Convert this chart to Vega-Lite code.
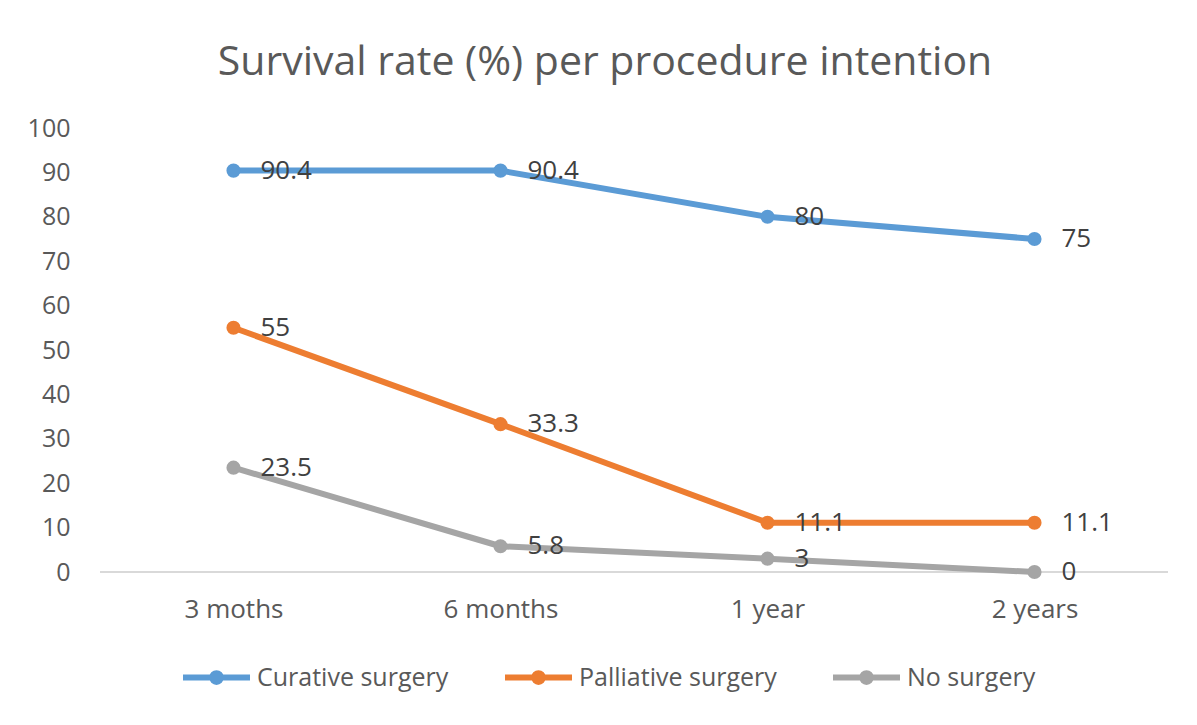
{
  "$schema": "https://vega.github.io/schema/vega-lite/v6.json",
  "autosize": {"type": "none"},
  "width": 1068,
  "height": 444,
  "padding": {"left": 100, "top": 128, "right": 29, "bottom": 153},
  "background": "white",
  "title": {
    "text": "Survival rate (%) per procedure intention",
    "font": "Open Sans",
    "fontSize": 41,
    "fontWeight": "normal",
    "color": "#595959",
    "anchor": "middle",
    "baseline": "alphabetic",
    "offset": 0,
    "dx": -29
  },
  "data": {
    "values": [
      {"period": "3 moths", "group": "Curative surgery", "rate": 90.4},
      {"period": "6 months", "group": "Curative surgery", "rate": 90.4},
      {"period": "1 year", "group": "Curative surgery", "rate": 80},
      {"period": "2 years", "group": "Curative surgery", "rate": 75},
      {"period": "3 moths", "group": "Palliative surgery", "rate": 55},
      {"period": "6 months", "group": "Palliative surgery", "rate": 33.3},
      {"period": "1 year", "group": "Palliative surgery", "rate": 11.1},
      {"period": "2 years", "group": "Palliative surgery", "rate": 11.1},
      {"period": "3 moths", "group": "No surgery", "rate": 23.5},
      {"period": "6 months", "group": "No surgery", "rate": 5.8},
      {"period": "1 year", "group": "No surgery", "rate": 3},
      {"period": "2 years", "group": "No surgery", "rate": 0}
    ]
  },
  "encoding": {
    "x": {
      "field": "period",
      "type": "ordinal",
      "sort": ["3 moths", "6 months", "1 year", "2 years"],
      "scale": {"type": "point", "padding": 0.5},
      "axis": {
        "title": null,
        "labelAngle": 0,
        "labelFont": "Open Sans",
        "labelFontSize": 26,
        "labelColor": "#595959",
        "labelPadding": 24,
        "ticks": false,
        "domain": false,
        "grid": false
      }
    },
    "y": {
      "field": "rate",
      "type": "quantitative",
      "scale": {"domain": [0, 100], "nice": false},
      "axis": {
        "title": null,
        "values": [0, 10, 20, 30, 40, 50, 60, 70, 80, 90, 100],
        "labelFont": "Open Sans",
        "labelFontSize": 25,
        "labelColor": "#595959",
        "labelPadding": 30,
        "ticks": false,
        "domain": false,
        "grid": false
      }
    },
    "color": {
      "field": "group",
      "type": "nominal",
      "scale": {
        "domain": ["Curative surgery", "Palliative surgery", "No surgery"],
        "range": ["#5B9BD5", "#ED7D31", "#A5A5A5"]
      },
      "legend": {
        "title": null,
        "orient": "none",
        "direction": "horizontal",
        "legendX": 80,
        "legendY": 513,
        "symbolType": "M-1,0H1M-0.13,0A0.13,0.13 0 1,0 0.13,0A0.13,0.13 0 1,0 -0.13,0",
        "symbolSize": 4489,
        "symbolStrokeWidth": 6,
        "labelFont": "Open Sans",
        "labelFontSize": 25,
        "labelColor": "#595959",
        "labelLimit": 400,
        "labelOffset": 4,
        "columnPadding": 44,
        "padding": 0
      }
    }
  },
  "layer": [
    {
      "mark": {"type": "rule", "color": "#D9D9D9", "strokeWidth": 1.5},
      "encoding": {
        "x": {"value": 0},
        "x2": {"value": 1068},
        "y": {"datum": 0},
        "color": {"value": "#D9D9D9"}
      }
    },
    {
      "mark": {"type": "line", "strokeWidth": 6, "strokeCap": "round", "strokeJoin": "round"}
    },
    {
      "mark": {"type": "point", "filled": true, "size": 200, "opacity": 1}
    },
    {
      "mark": {
        "type": "text",
        "align": "left",
        "baseline": "middle",
        "dx": 27,
        "font": "Open Sans",
        "fontSize": 26
      },
      "encoding": {
        "text": {"field": "rate", "type": "quantitative"},
        "color": {"value": "#404040"}
      }
    }
  ],
  "config": {
    "view": {"stroke": null}
  }
}
